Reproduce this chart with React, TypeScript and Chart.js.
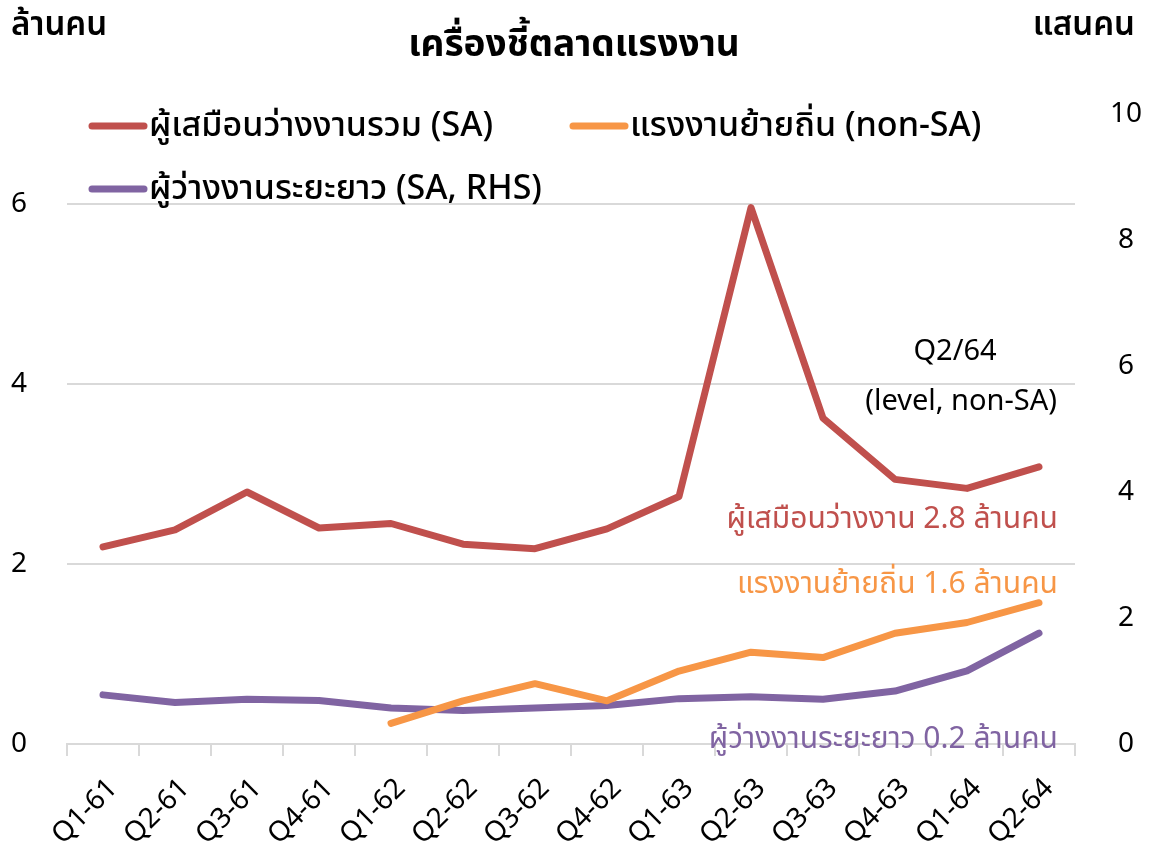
import React, { useEffect, useRef } from "react";
import { Chart, registerables } from "chart.js";

Chart.register(...registerables);

const categories = [
  "Q1-61", "Q2-61", "Q3-61", "Q4-61",
  "Q1-62", "Q2-62", "Q3-62", "Q4-62",
  "Q1-63", "Q2-63", "Q3-63", "Q4-63",
  "Q1-64", "Q2-64",
];

// ผู้เสมือนว่างงานรวม (SA) – ล้านคน (left axis)
const unemployedTotalSA = [2.19, 2.38, 2.8, 2.4, 2.45, 2.22, 2.17, 2.39, 2.75, 5.96, 3.62, 2.94, 2.84, 3.08];
// แรงงานย้ายถิ่น (non-SA) – ล้านคน (left axis)
const migrantNonSA = [null, null, null, null, 0.23, 0.48, 0.67, 0.48, 0.81, 1.02, 0.96, 1.23, 1.35, 1.57];
// ผู้ว่างงานระยะยาว (SA, RHS) – แสนคน (right axis)
const longTermSA = [0.78, 0.66, 0.71, 0.69, 0.57, 0.53, 0.57, 0.61, 0.72, 0.75, 0.71, 0.84, 1.16, 1.76];

const seriesNames = [
  "ผู้เสมือนว่างงานรวม (SA)",
  "แรงงานย้ายถิ่น (non-SA)",
  "ผู้ว่างงานระยะยาว (SA, RHS)",
];
const seriesColors = ["#C0504D", "#F79646", "#8064A2"];

const titleText = "เครื่องชี้ตลาดแรงงาน";
const leftUnit = "ล้านคน";
const rightUnit = "แสนคน";
const leftMax = 7;
const rightMax = 10;
const tickStep = 2;

const noteLines = ["Q2/64", "(level, non-SA)"];
const endLabels = [
  "ผู้เสมือนว่างงาน 2.8 ล้านคน",
  "แรงงานย้ายถิ่น 1.6 ล้านคน",
  "ผู้ว่างงานระยะยาว 0.2 ล้านคน",
];

const FONT = "'Noto Sans', 'Noto Sans Thai', sans-serif";

const overlayPlugin = {
  id: "overlay",
  afterDraw(chart: any) {
    const ctx = chart.ctx as CanvasRenderingContext2D;
    ctx.save();
    ctx.textBaseline = "middle";

    // title
    ctx.fillStyle = "#000";
    ctx.font = `bold 37px ${FONT}`;
    ctx.textAlign = "center";
    ctx.fillText(titleText, 574, 45);

    // unit labels
    ctx.font = `600 33px ${FONT}`;
    ctx.textAlign = "left";
    ctx.fillText(leftUnit, 11, 26);
    ctx.textAlign = "right";
    ctx.fillText(rightUnit, 1135, 26);

    // legend
    const legendPos = [
      { x: 92, y: 126 },
      { x: 573, y: 126 },
      { x: 92, y: 189 },
    ];
    ctx.font = `500 34px ${FONT}`;
    ctx.textAlign = "left";
    seriesNames.forEach((name, i) => {
      const p = legendPos[i];
      ctx.strokeStyle = seriesColors[i];
      ctx.lineWidth = 7;
      ctx.lineCap = "round";
      ctx.beginPath();
      ctx.moveTo(p.x, p.y);
      ctx.lineTo(p.x + 52, p.y);
      ctx.stroke();
      ctx.fillStyle = "#000";
      ctx.fillText(name, p.x + 57, p.y);
    });

    // note
    ctx.font = `29px ${FONT}`;
    ctx.fillStyle = "#000";
    ctx.textAlign = "center";
    ctx.fillText(noteLines[0], 955, 352);
    ctx.textAlign = "right";
    ctx.fillText(noteLines[1], 1057, 402);

    // end labels
    ctx.font = `30px ${FONT}`;
    const endY = [519, 584, 739];
    endLabels.forEach((t, i) => {
      ctx.fillStyle = seriesColors[i];
      ctx.fillText(t, 1058, endY[i]);
    });
    ctx.restore();
  },
};

export default function App() {
  const ref = useRef<HTMLCanvasElement | null>(null);

  useEffect(() => {
    if (!ref.current) return;
    const common = {
      fill: false,
      borderWidth: 7,
      pointRadius: 0,
      pointHoverRadius: 0,
      borderCapStyle: "round" as const,
      borderJoinStyle: "round" as const,
      tension: 0,
    };
    const chart = new Chart(ref.current, {
      type: "line",
      data: {
        labels: categories,
        datasets: [
          { ...common, label: seriesNames[0], data: unemployedTotalSA, borderColor: seriesColors[0], backgroundColor: seriesColors[0], yAxisID: "y" },
          { ...common, label: seriesNames[1], data: migrantNonSA, borderColor: seriesColors[1], backgroundColor: seriesColors[1], yAxisID: "y" },
          { ...common, label: seriesNames[2], data: longTermSA, borderColor: seriesColors[2], backgroundColor: seriesColors[2], yAxisID: "y1" },
        ],
      },
      options: {
        responsive: false,
        animation: false,
        events: [],
        layout: { padding: { left: 11, right: 0, top: 114, bottom: 0 } },
        plugins: {
          legend: { display: false },
          title: { display: false },
          tooltip: { enabled: false },
        },
        scales: {
          x: {
            type: "category",
            offset: true,
            grid: {
              offset: true,
              drawOnChartArea: false,
              drawTicks: true,
              tickLength: 12,
              color: "#d9d9d9",
              lineWidth: 2,
            },
            border: { display: true, color: "#d9d9d9", width: 2 },
            ticks: {
              color: "#000",
              font: { family: FONT, size: 28 },
              maxRotation: 45,
              minRotation: 45,
              autoSkip: false,
              padding: 16,
              labelOffset: 10,
            },
            afterFit: (s: any) => { s.height = 105; },
          },
          y: {
            position: "left",
            min: 0,
            max: leftMax,
            ticks: {
              stepSize: tickStep,
              includeBounds: false,
              color: "#000",
              font: { family: FONT, size: 28 },
              crossAlign: "far",
            },
            grid: { color: "#d9d9d9", lineWidth: 2, drawTicks: false },
            border: { display: false },
            afterFit: (s: any) => { s.width = 56; },
          },
          y1: {
            position: "right",
            min: 0,
            max: rightMax,
            ticks: {
              stepSize: tickStep,
              color: "#000",
              font: { family: FONT, size: 28 },
              crossAlign: "center",
              padding: 35,
            },
            grid: { display: false, drawTicks: false },
            border: { display: false },
            afterFit: (s: any) => { s.width = 78; },
          },
        },
      },
      plugins: [overlayPlugin],
    });
    return () => chart.destroy();
  }, []);

  return (
    <div style={{ position: "fixed", left: 0, top: 0, width: 1153, height: 849, background: "#fff" }}>
      <canvas ref={ref} width={1153} height={849} style={{ display: "block" }} />
    </div>
  );
}
